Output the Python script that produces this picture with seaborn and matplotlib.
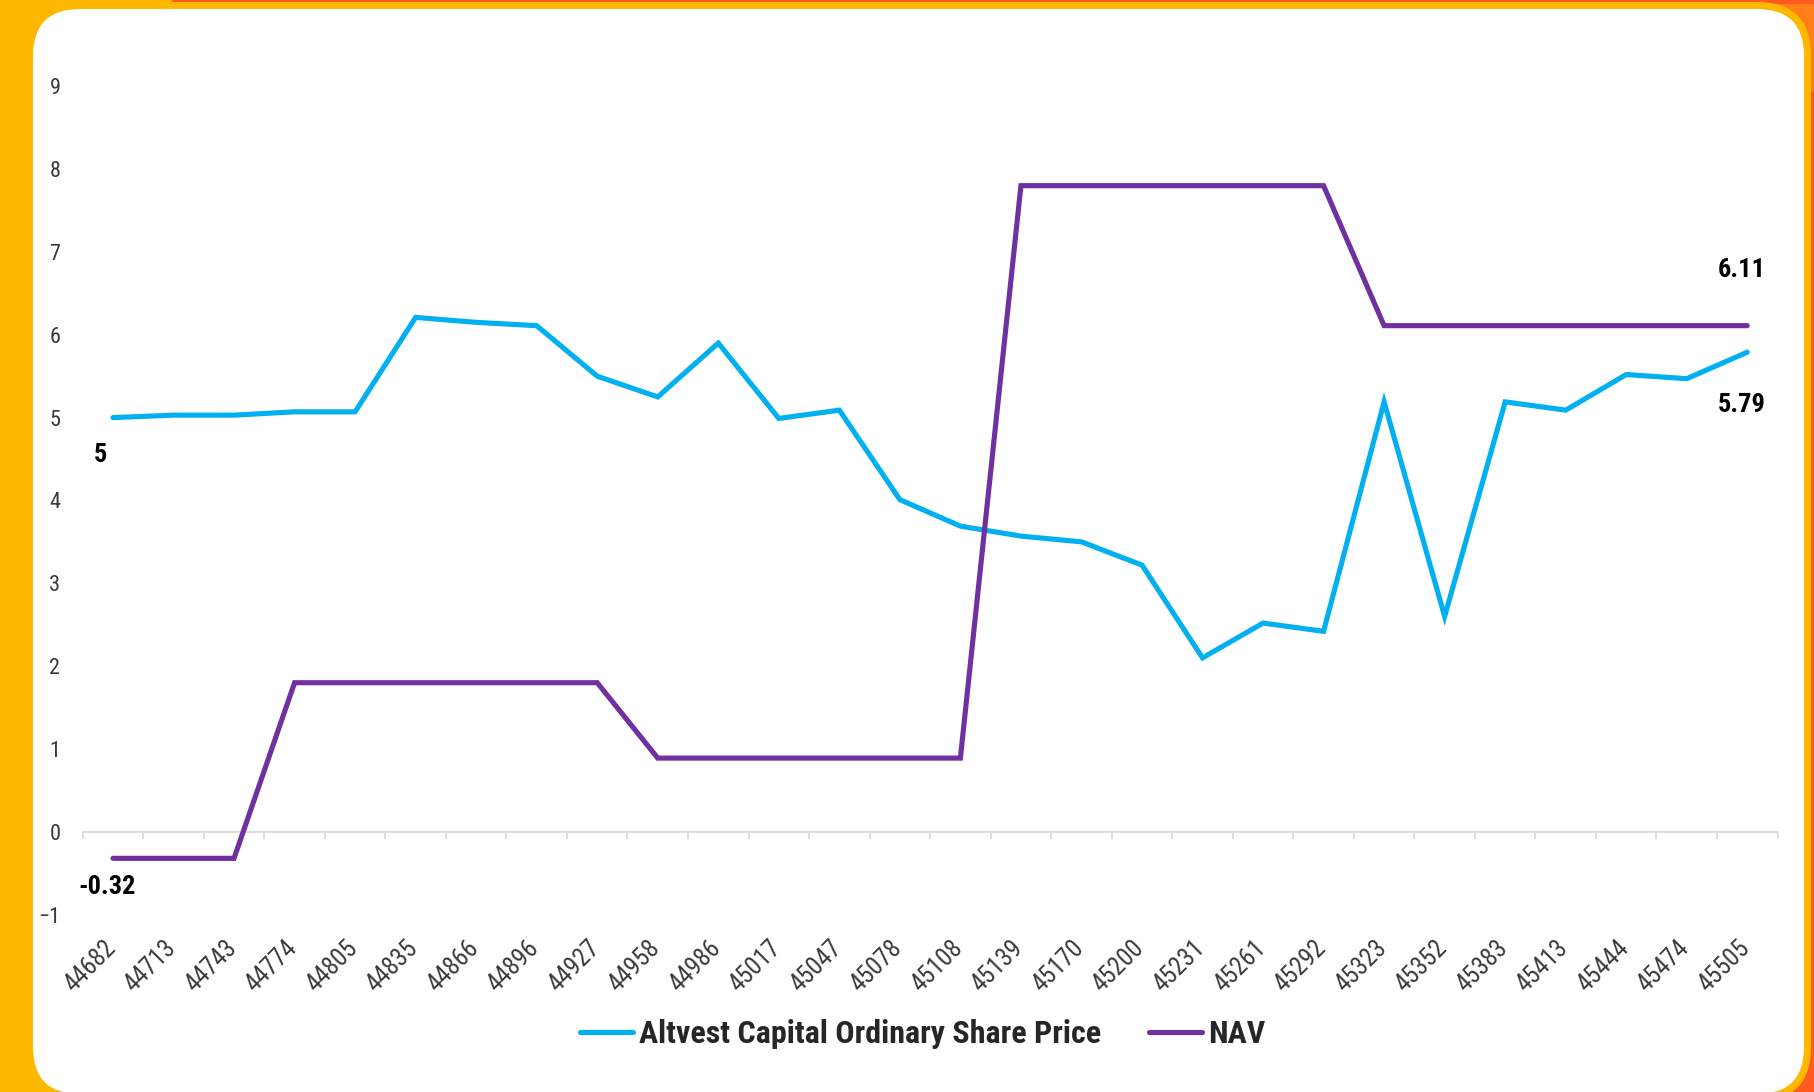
import numpy as np
import pandas as pd
import matplotlib
matplotlib.use("Agg")
import matplotlib.pyplot as plt
import matplotlib.transforms as mtransforms
import seaborn as sns
from matplotlib import font_manager
from matplotlib.patches import FancyBboxPatch, Rectangle

# ---------------- data ----------------
dates = ["44682", "44713", "44743", "44774", "44805", "44835", "44866", "44896",
         "44927", "44958", "44986", "45017", "45047", "45078", "45108", "45139",
         "45170", "45200", "45231", "45261", "45292", "45323", "45352", "45383",
         "45413", "45444", "45474", "45505"]
share_price = [5.00, 5.03, 5.03, 5.07, 5.07, 6.21, 6.15, 6.11, 5.50, 5.25,
               5.90, 4.99, 5.09, 4.01, 3.69, 3.57, 3.50, 3.22, 2.10, 2.52,
               2.42, 5.19, 2.60, 5.19, 5.09, 5.52, 5.47, 5.79]
nav = [-0.32, -0.32, -0.32, 1.80, 1.80, 1.80, 1.80, 1.80, 1.80, 0.89,
       0.89, 0.89, 0.89, 0.89, 0.89, 7.80, 7.80, 7.80, 7.80, 7.80,
       7.80, 6.11, 6.11, 6.11, 6.11, 6.11, 6.11, 6.11]
series_names = ["Altvest Capital Ordinary Share Price", "NAV"]
y_ticks = [-1, 0, 1, 2, 3, 4, 5, 6, 7, 8, 9]

BLUE = "#00B0F0"
PURPLE = "#7030A0"

# ---------------- style ----------------
sns.set_theme(style="white")
available = {f.name for f in font_manager.fontManager.ttflist}


def pick(cands):
    for c in cands:
        if c in available:
            return c
    return "DejaVu Sans"


narrow = pick(["Liberation Sans Narrow", "Roboto Condensed", "Open Sans Condensed",
               "Liberation Sans"])
plt.rcParams["font.family"] = [narrow, "DejaVu Sans"]

W, H = 18.14, 10.92
fig = plt.figure(figsize=(W, H), dpi=100, facecolor="#FFB800")
T = fig.dpi_scale_trans

# background decoration (pixels / 100 = inches, y measured from bottom)
fig.patches.append(Rectangle((17.80, 0), 0.40, H, transform=T, color="#FF5A1F", zorder=0))
fig.patches.append(Rectangle((17.60, H - 0.9), 0.6, 0.9, transform=T, color="#FF7F1A", zorder=0.1))
fig.patches.append(Rectangle((1.72, H - 0.025), W, 0.05, transform=T, color="#FF5A1F", zorder=0.1))
fig.patches.append(FancyBboxPatch((0.26, -0.09), 17.85, 10.99,
                                  boxstyle="round,pad=0,rounding_size=0.54",
                                  transform=T, facecolor="#FFB800", edgecolor="none", zorder=0.5))
fig.patches.append(FancyBboxPatch((0.33, -0.02), 17.71, 10.85,
                                  boxstyle="round,pad=0,rounding_size=0.47",
                                  transform=T, facecolor="white", edgecolor="none", zorder=1))

ax = fig.add_axes([0.0456, 0.1624, 0.9343, 0.7586])
ax.set_zorder(3)
ax.set_facecolor("none")

df = pd.DataFrame({
    "date": dates * 2,
    "value": share_price + nav,
    "series": [series_names[0]] * len(dates) + [series_names[1]] * len(dates),
})
sns.lineplot(data=df, x="date", y="value", hue="series", palette=[BLUE, PURPLE],
             linewidth=3.7, sort=False, ax=ax, zorder=3)
for ln in ax.lines:
    ln.set_solid_capstyle("round")
    ln.set_solid_joinstyle("miter")

ax.set_xlim(-0.5, len(dates) - 0.5)
ax.set_ylim(-1, 9)
ax.set_yticks(y_ticks)
ax.set_xlabel("")
ax.set_ylabel("")
for s in ax.spines.values():
    s.set_visible(False)
ax.grid(False)

ax.tick_params(axis="y", length=0, pad=16, labelsize=16, labelcolor="#3a3a3a")
ax.tick_params(axis="x", length=0, pad=15, labelsize=18, labelcolor="#3a3a3a")
shift = mtransforms.ScaledTranslation(7 / 100, 0, fig.dpi_scale_trans)
for tick in ax.xaxis.get_major_ticks():
    lab = tick.label1
    lab.set_rotation(45)
    lab.set_ha("right")
    lab.set_va("top")
    lab.set_transform(lab.get_transform() + shift)

# category axis line at y = 0 with boundary tick marks
sec = ax.secondary_xaxis(0.1)
sec.set_xticks(np.arange(-0.5, len(dates), 1.0))
sec.set_xticklabels([])
sec.tick_params(axis="x", length=5, width=1.2, color="#D9D9D9", direction="out")
for name, s in sec.spines.items():
    if name == "bottom":
        s.set_color("#D9D9D9")
        s.set_linewidth(1.2)
    else:
        s.set_visible(False)

# data labels
lab_kw = dict(textcoords="offset points", ha="center", va="center",
              fontsize=19, fontweight="bold", color="black", zorder=5)
ax.annotate(f"{share_price[0]:g}", (0, share_price[0]), xytext=(-9, -27), **lab_kw)
ax.annotate(f"{nav[0]:g}", (0, nav[0]), xytext=(-4, -21), **lab_kw)
ax.annotate(f"{nav[-1]:g}", (len(dates) - 1, nav[-1]), xytext=(-4, 40), **lab_kw)
ax.annotate(f"{share_price[-1]:g}", (len(dates) - 1, share_price[-1]), xytext=(-4, -38), **lab_kw)

# legend
handles, labels = ax.get_legend_handles_labels()
if ax.get_legend() is not None:
    ax.get_legend().remove()
leg = fig.legend(handles, labels, loc="center", bbox_to_anchor=(0.5087, 0.053),
                 ncol=2, frameon=False, handlelength=1.65, handletextpad=0.2,
                 columnspacing=1.5, prop={"family": [narrow, "DejaVu Sans"],
                                          "weight": "bold", "size": 23})
leg.set_zorder(6)
for h in leg.get_lines():
    h.set_linewidth(3.7)
    h.set_solid_capstyle("round")

fig.savefig("out.png", dpi=100, facecolor=fig.get_facecolor())
